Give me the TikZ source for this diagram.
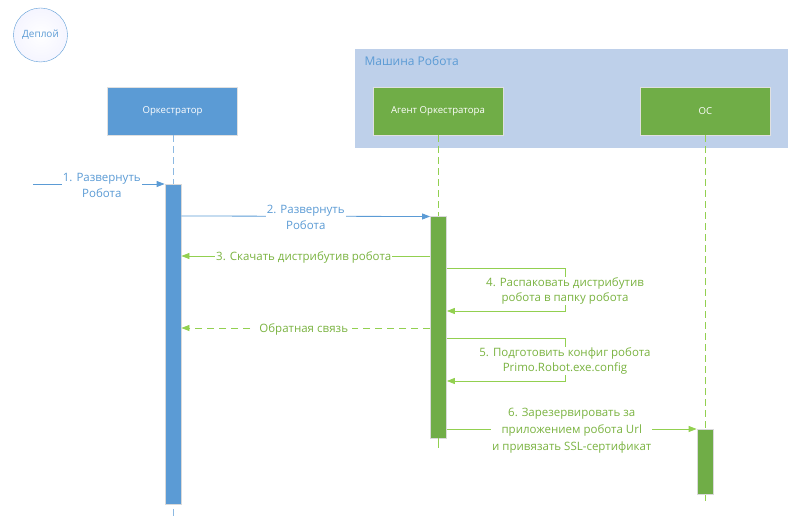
\documentclass[tikz,border=0pt]{standalone}
\usepackage{fontspec}
\setmainfont{Open Sans}
\usetikzlibrary{arrows.meta}
\usetikzlibrary{calc}

\definecolor{orchblue}{HTML}{5B9BD5}
\definecolor{agentgreen}{HTML}{70AD47}
\definecolor{msggreen}{HTML}{92D050}
\definecolor{msgtext}{HTML}{7AB340}
\definecolor{machinefill}{HTML}{BED0EA}

\tikzset{
	actor/.style={draw=black!12, line width=0.8pt, minimum width=130pt, minimum height=48pt,
		inner sep=0pt, text=white, font=\fontsize{9.6}{12}\selectfont},
	bar/.style={draw=black!15, line width=0.8pt, minimum width=16pt, inner sep=0pt, anchor=north},
	lifeline/.style={dash pattern=on 7pt off 4pt, line width=0.8pt},
	bluemsg/.style={orchblue, line width=0.8pt, -{Triangle[length=8pt, width=6pt]}},
	greenmsg/.style={msggreen, line width=0.8pt, -{Triangle[length=8pt, width=6pt]}},
	lbl/.style={fill=white, inner sep=1pt, align=center, yshift=-1.5pt,
		font=\fontsize{11.5}{16}\selectfont},
}

% self message on a bar: bar, y top, y bottom, right x, label
\newcommand{\drawselfmsg}[5]{
	\coordinate (s1) at (#1.east |- 0,#2);
	\coordinate (s2) at (#4,#2);
	\coordinate (s3) at (#4,#3);
	\coordinate (s4) at (#1.east |- 0,#3);
	\draw[greenmsg] (s1) -- (s2) -- (s3) -- (s4);
	\node[lbl, text=msgtext, font=\fontsize{11.5}{15}\selectfont] at ($(s2)!0.5!(s3)$) {#5};
}

\begin{document}
\begin{tikzpicture}[x=1pt, y=-1pt]
\useasboundingbox (0,0) rectangle (808,526);

% deploy circle
\node[circle, draw=orchblue, inner color=white, outer color=blue!4, minimum size=54pt,
	inner sep=0pt, text=orchblue, font=\fontsize{10}{12}\selectfont] (deploy) at (40.5,35) {Деплой};

% machine frame
\fill[machinefill] (355,49) rectangle (788,148);
\node[anchor=west, text=orchblue, font=\fontsize{12}{14}\selectfont] (machine) at (361,61) {Машина Робота};

% participants
\node[actor, fill=orchblue] (orch) at (172.5,111) {Оркестратор};
\node[actor, fill=agentgreen] (agent) at (438,111) {Агент Оркестратора};
\node[actor, fill=agentgreen] (os) at (705.5,111) {ОС};

% activation bars
\node[bar, fill=orchblue, minimum height=320pt] (orchbar) at (173,184) {};
\node[bar, fill=agentgreen, minimum height=221pt] (agentbar) at (438.5,216.5) {};
\node[bar, fill=agentgreen, minimum height=65pt] (osbar) at (705,429) {};

% lifelines
\draw[lifeline, orchblue!70] (orch.south -| orchbar.north) -- (orchbar.north);
\coordinate (orchend) at (173,517);
\draw[lifeline, orchblue!70] (orchbar.south) ++(0,4) -- (orchend);
\draw[lifeline, msggreen] (agent.south -| agentbar.north) -- (agentbar.north);
\coordinate (agentend) at (438.5,448);
\draw[msggreen, line width=0.8pt] (agentbar.south) -- (agentend);
\draw[lifeline, msggreen] (os.south -| osbar.north) -- (osbar.north);
\coordinate (osend) at (705,501);
\draw[msggreen, line width=0.8pt] (osbar.south) -- (osend);

% 1
\coordinate (start) at (33,184);
\draw[bluemsg] (start) -- (orchbar.north west)
	node[lbl, text=orchblue, midway, xshift=3pt] {1. Развернуть\\Робота};

% 2
\draw[bluemsg] (orchbar.east |- 0,216) -- (agentbar.north west)
	node[lbl, text=orchblue, midway] {2. Развернуть\\Робота};

% 3
\draw[greenmsg] (agentbar.west |- 0,256) -- (orchbar.east |- 0,256)
	node[lbl, text=msgtext, midway, xshift=-2pt] {3. Скачать дистрибутив робота};

% 4
\drawselfmsg{agentbar}{268}{311}{565}{4. Распаковать дистрибутив\\робота в папку робота}

% feedback
\draw[greenmsg, dash pattern=on 7pt off 5pt] (agentbar.west |- 0,328) -- (orchbar.east |- 0,328)
	node[lbl, text=msgtext, midway, xshift=-2pt, inner xsep=4pt] {Обратная связь};

% 5
\drawselfmsg{agentbar}{338}{381}{565}{5. Подготовить конфиг робота\\Primo.Robot.exe.config}

% 6
\draw[greenmsg] (agentbar.east |- 0,429) -- (osbar.north west)
	node[lbl, text=msgtext, midway, xshift=-0pt, font=\fontsize{11.5}{17}\selectfont] {6. Зарезервировать за\\приложением робота Url\\и привязать SSL-сертификат};

\end{tikzpicture}
\end{document}
